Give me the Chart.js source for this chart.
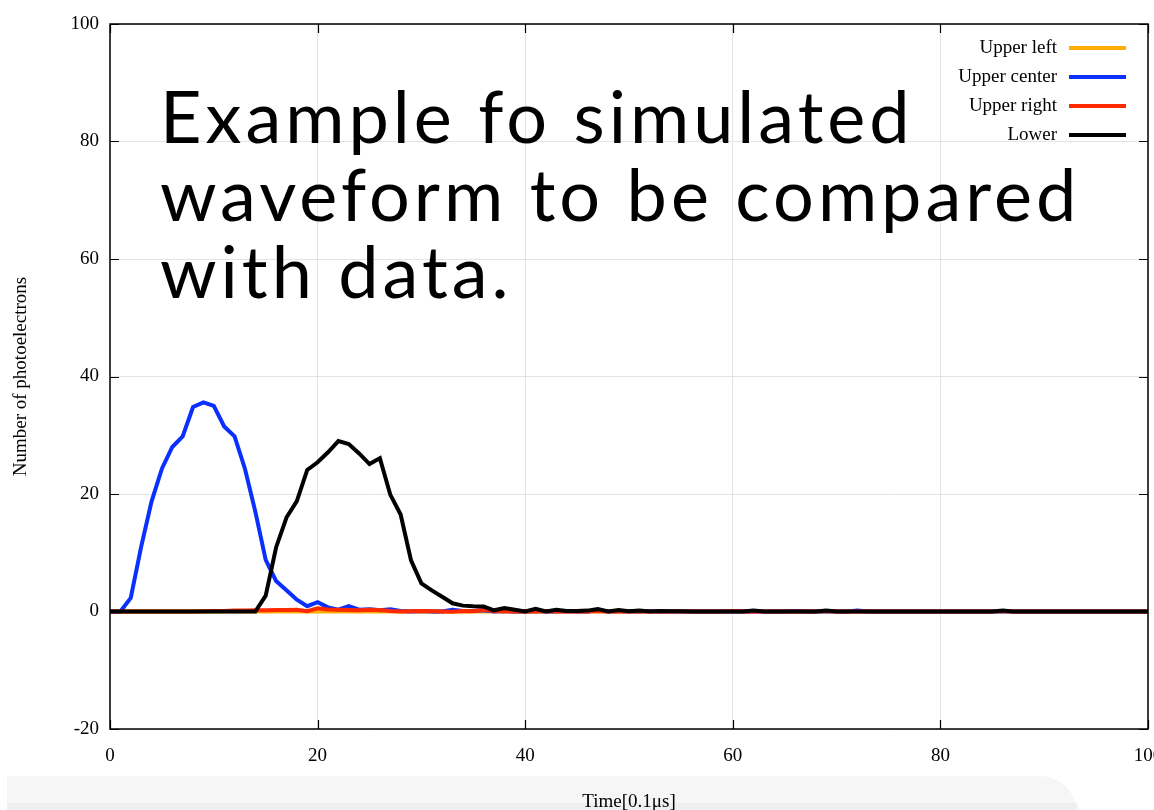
<!DOCTYPE html>
<html>
<head>
<meta charset="utf-8">
<title>Simulated waveform</title>
<script src="https://cdn.jsdelivr.net/npm/chart.js@4/dist/chart.umd.min.js"></script>
<style>
    html, body { margin: 0; padding: 0; background: #ffffff; }
    canvas { display: block; }
</style>
</head>
<body>
<canvas id="waveChart" width="1154" height="810"></canvas>
<script>
// ========== DATA ==========
// one value per 0.1 us time bin, bins 0..100
const seriesNames = ['Upper left', 'Upper center', 'Upper right', 'Lower'];
const seriesColors = ['#ffad00', '#0a30ff', '#ff2a00', '#000000'];

const upperLeft = [
    0, 0, 0, 0, 0, 0, 0, 0, 0, 0,
    0, 0, 0, 0, 0, 0, 0, 0, 0, 0,
    0, 0, 0, 0, 0, 0, 0, 0, 0, 0,
    0, 0, 0, 0, 0, 0, 0, 0, 0, 0,
    0, 0, 0, 0, 0, 0, 0, 0, 0, 0,
    0, 0, 0, 0, 0, 0, 0, 0, 0, 0,
    0, 0, 0, 0, 0, 0, 0, 0, 0, 0,
    0, 0, 0, 0, 0, 0, 0, 0, 0, 0,
    0, 0, 0, 0, 0, 0, 0, 0, 0, 0,
    0, 0, 0, 0, 0, 0, 0, 0, 0, 0,
    0
];

const upperCenter = [
    0, 0, 2.3, 11, 18.7, 24.3, 28, 29.8, 34.8, 35.6,
    35, 31.5, 29.8, 24.3, 17, 8.8, 5.2, 3.6, 2, 0.9,
    1.6, 0.7, 0.3, 0.9, 0.3, 0.4, 0.2, 0.4, 0.1, 0,
    0.1, 0, 0, 0.3, 0.1, 0.1, 0.2, 0, 0.1, 0,
    0, 0.1, 0, 0, 0.1, 0, 0, 0.2, 0, 0.1,
    0, 0, 0.1, 0, 0, 0, 0, 0, 0, 0,
    0, 0, 0, 0, 0, 0, 0.1, 0, 0, 0,
    0, 0, 0.15, 0, 0, 0, 0, 0, 0, 0,
    0, 0, 0, 0, 0, 0, 0, 0, 0, 0,
    0, 0, 0, 0, 0, 0, 0, 0, 0, 0,
    0
];

const upperRight = [
    0, 0, 0, 0, 0, 0, 0, 0, 0, 0.05,
    0.1, 0.1, 0.15, 0.15, 0.2, 0.2, 0.25, 0.25, 0.3, 0.05,
    0.55, 0.35, 0.3, 0.25, 0.2, 0.3, 0.25, 0.1, 0, 0.05,
    0.1, 0.05, 0, -0.05, 0.1, 0.05, 0.3, 0.1, 0.05, 0,
    0.05, 0, 0.1, 0, 0.05, 0, 0, 0.1, 0, 0,
    0, 0.05, 0, 0, 0, 0, 0, 0, 0, 0,
    0.1, 0, 0, 0, 0, 0, 0, 0, 0, 0.1,
    0, 0, 0, 0, 0, 0, 0, 0, 0, 0,
    0, 0, 0, 0, 0, 0, 0.1, 0, 0, 0,
    0, 0, 0, 0, 0, 0, 0, 0, 0, 0,
    0
];

const lower = [
    0, 0, 0, 0, 0, 0, 0, 0, 0, 0,
    0, 0, 0, 0, 0, 2.7, 10.9, 16, 18.8, 24.1,
    25.4, 27.1, 29, 28.5, 26.9, 25.1, 26.1, 19.9, 16.5, 8.7,
    4.8, 3.6, 2.5, 1.4, 1.0, 0.9, 0.85, 0.2, 0.6, 0.3,
    0, 0.45, 0, 0.3, 0.1, 0.1, 0.15, 0.4, 0, 0.25,
    0.05, 0.15, 0, 0.1, 0.05, 0.05, 0, 0, 0, 0,
    0, 0, 0.15, 0, 0, 0, 0, 0, 0, 0.15,
    0, 0, 0, 0, 0, 0, 0, 0, 0, 0,
    0, 0, 0, 0, 0, 0, 0.15, 0, 0, 0,
    0, 0, 0, 0, 0, 0, 0, 0, 0, 0,
    0
];

const xTicks = [0, 20, 40, 60, 80, 100];
const yTicks = [-20, 0, 20, 40, 60, 80, 100];

const titleLines = ['Example fo simulated', 'waveform to be compared', 'with data.'];
const xAxisTitle = 'Time[0.1\u03bcs]';
const yAxisTitle = 'Number of photoelectrons';

const SERIF = '"Liberation Serif", "Times New Roman", serif';

// ========== HELPERS ==========
function toPoints(values) {
    return values.map((v, i) => ({ x: i, y: v }));
}

// ========== PLUGINS ==========
// light footer band behind the x axis title
const footerBand = {
    id: 'footerBand',
    beforeDraw(chart) {
        const ctx = chart.ctx;
        ctx.save();
        ctx.fillStyle = '#f6f6f6';
        ctx.beginPath();
        ctx.moveTo(7, 776);
        ctx.lineTo(1040, 776);
        ctx.quadraticCurveTo(1062, 777, 1072, 795);
        ctx.lineTo(1080, 810);
        ctx.lineTo(7, 810);
        ctx.closePath();
        ctx.fill();
        ctx.fillStyle = '#efefef';
        ctx.fillRect(7, 803, 1070, 7);
        ctx.restore();
    }
};

// gnuplot style frame with inward tick marks
const frameTicks = {
    id: 'frameTicks',
    afterDatasetsDraw(chart) {
        const { ctx, chartArea: a, scales } = chart;
        const len = 9;
        ctx.save();
        ctx.strokeStyle = '#000';
        ctx.lineWidth = 1.5;
        ctx.strokeRect(a.left, a.top, a.right - a.left, a.bottom - a.top);
        ctx.lineWidth = 1.2;
        ctx.beginPath();
        yTicks.forEach(v => {
            const y = Math.round(scales.y.getPixelForValue(v)) + 0.5;
            ctx.moveTo(a.left, y); ctx.lineTo(a.left + len, y);
            ctx.moveTo(a.right, y); ctx.lineTo(a.right - len, y);
        });
        xTicks.forEach(v => {
            const x = Math.round(scales.x.getPixelForValue(v)) + 0.5;
            ctx.moveTo(x, a.bottom); ctx.lineTo(x, a.bottom - len);
            ctx.moveTo(x, a.top); ctx.lineTo(x, a.top + len);
        });
        ctx.stroke();
        ctx.restore();
    }
};

// legend in the top right corner: label, then line sample
const cornerLegend = {
    id: 'cornerLegend',
    afterDatasetsDraw(chart) {
        const ctx = chart.ctx;
        const a = chart.chartArea;
        const textRight = a.right - 91;
        const lineStart = a.right - 79;
        const lineEnd = a.right - 22;
        ctx.save();
        ctx.font = '19px ' + SERIF;
        ctx.textAlign = 'right';
        ctx.textBaseline = 'middle';
        chart.data.datasets.forEach((ds, i) => {
            const y = a.top + 24 + i * 29;
            ctx.fillStyle = '#000';
            ctx.fillText(ds.label, textRight, y);
            ctx.strokeStyle = ds.borderColor;
            ctx.lineWidth = 4;
            ctx.beginPath();
            ctx.moveTo(lineStart, y);
            ctx.lineTo(lineEnd, y);
            ctx.stroke();
        });
        ctx.restore();
    }
};

// large caption written across the plot
const captionText = {
    id: 'captionText',
    afterDraw(chart) {
        const ctx = chart.ctx;
        ctx.save();
        ctx.font = '400 72px Lato, "Noto Sans", sans-serif';
        ctx.letterSpacing = '4px';
        ctx.fillStyle = '#000';
        ctx.textAlign = 'left';
        ctx.textBaseline = 'alphabetic';
        titleLines.forEach((line, i) => {
            ctx.fillText(line, 160, 143 + i * 77.5);
        });
        ctx.restore();
    }
};

// ========== CHART ==========
const ctx = document.getElementById('waveChart').getContext('2d');
const seriesValues = [upperLeft, upperCenter, upperRight, lower];
const drawOrder = [3, 2, 1, 0];

new Chart(ctx, {
    type: 'line',
    data: {
        datasets: seriesNames.map((name, i) => ({
            label: name,
            data: toPoints(seriesValues[i]),
            borderColor: seriesColors[i],
            backgroundColor: seriesColors[i],
            borderWidth: 4,
            pointRadius: 0,
            tension: 0,
            fill: false,
            order: drawOrder[i]
        }))
    },
    options: {
        responsive: false,
        animation: false,
        layout: { padding: { top: 24, right: 6, left: 0, bottom: 0 } },
        plugins: {
            legend: { display: false },
            tooltip: { enabled: false }
        },
        scales: {
            x: {
                type: 'linear',
                min: 0,
                max: 100,
                border: { display: false },
                grid: { color: '#e4e4e4', lineWidth: 1, drawTicks: false },
                ticks: {
                    stepSize: 20,
                    padding: 16,
                    color: '#000',
                    font: { family: SERIF, size: 19 }
                },
                title: {
                    display: true,
                    text: xAxisTitle,
                    color: '#000',
                    font: { family: SERIF, size: 19, lineHeight: 1 },
                    padding: { top: 0, bottom: -2 }
                },
                afterFit(scale) {
                    scale.height = 81;
                    scale.paddingLeft = 0;
                    scale.paddingRight = 0;
                }
            },
            y: {
                min: -20,
                max: 100,
                border: { display: false },
                grid: { color: '#e4e4e4', lineWidth: 1, drawTicks: false },
                ticks: {
                    stepSize: 20,
                    padding: 11,
                    color: '#000',
                    font: { family: SERIF, size: 19 }
                },
                title: {
                    display: true,
                    text: yAxisTitle,
                    color: '#000',
                    font: { family: SERIF, size: 19, lineHeight: 1 },
                    padding: { top: 12, bottom: 0 }
                },
                afterFit(scale) {
                    scale.width = 110;
                    scale.paddingTop = 0;
                    scale.paddingBottom = 0;
                }
            }
        }
    },
    plugins: [footerBand, frameTicks, cornerLegend, captionText]
});
</script>
</body>
</html>
